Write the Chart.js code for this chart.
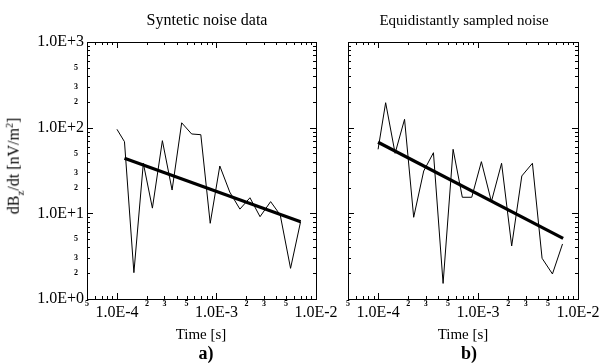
<!DOCTYPE html>
<html lang="en">
<head>
  <meta charset="UTF-8" />
  <title>Noise data</title>
  <script src="https://cdn.jsdelivr.net/npm/chart.js"></script>
  <style>
    body { margin: 0; background: #fff; }
    #wrap { position: relative; width: 602px; height: 363px; font-family: "Liberation Serif", "DejaVu Serif", serif; color: #000; }
    canvas { position: absolute; top: 0; }
    .txt { position: absolute; transform: translate(-50%, -50%); white-space: nowrap; line-height: 1; }
  </style>
</head>
<body>
  <div id="wrap">
    <canvas id="chartA" width="346" height="363" style="left:0"></canvas>
    <canvas id="chartB" width="282" height="363" style="left:320px"></canvas>
    <div class="txt" style="left:207px; top:20px; font-size:16px;">Syntetic noise data</div>
    <div class="txt" style="left:464px; top:20px; font-size:15px;">Equidistantly sampled noise</div>
    <div class="txt" style="left:15px; top:166px; font-size:16px; transform: translate(-50%, -50%) rotate(-90deg);">dB<sub style="font-size:11px">z</sub>/dt [nV/m<sup style="font-size:10px">2</sup>]</div>
    <div class="txt" style="left:201px; top:334px; font-size:15px;">Time [s]</div>
    <div class="txt" style="left:463px; top:334px; font-size:15px;">Time [s]</div>
    <div class="txt" style="left:206px; top:353px; font-size:18px; font-weight:bold;">a)</div>
    <div class="txt" style="left:469px; top:353px; font-size:18px; font-weight:bold;">b)</div>
  </div>

  <script>
    const times = [1.0e-4, 1.19e-4, 1.48e-4, 1.84e-4, 2.27e-4, 2.86e-4, 3.58e-4, 4.47e-4, 5.63e-4, 6.96e-4,
                   8.65e-4, 1.08e-3, 1.36e-3, 1.72e-3, 2.17e-3, 2.74e-3, 3.5e-3, 4.37e-3, 5.55e-3, 7.0e-3];
    const noiseA = [95.7, 68.6, 2.03, 38.4, 11.5, 70.5, 18.7, 114, 84.4, 82.8,
                    7.65, 35.7, 17.7, 11.2, 15.2, 9.14, 13.7, 9.57, 2.28, 7.98];
    const noiseB = [55.9, 195.6, 50.2, 125.2, 8.99, 31.2, 51.0, 1.52, 55.9, 15.4,
                    15.4, 40.1, 13.7, 38.4, 4.16, 27.3, 38.4, 2.99, 1.96, 4.39];
    const fitTimeA = [1.19e-4, 7.0e-3];
    const fitA = [43.9, 7.98];
    const fitTimeB = [1.0e-4, 7.1e-3];
    const fitB = [67.5, 5.1];

    const xMajorTicks = [1e-4, 1e-3, 1e-2];
    const xMajorLabels = ["1.0E-4", "1.0E-3", "1.0E-2"];
    const xMinorTicks = [5e-5, 6e-5, 7e-5, 8e-5, 9e-5, 2e-4, 3e-4, 4e-4, 5e-4, 6e-4, 7e-4, 8e-4, 9e-4,
                         2e-3, 3e-3, 4e-3, 5e-3, 6e-3, 7e-3, 8e-3, 9e-3];
    const xMinorLabeled = [5e-5, 2e-4, 3e-4, 5e-4, 2e-3, 3e-3, 5e-3];
    const xMinorLabels = ["5", "2", "3", "5", "2", "3", "5"];
    const yMajorTicks = [1, 10, 100, 1000];
    const yMajorLabels = ["1.0E+0", "1.0E+1", "1.0E+2", "1.0E+3"];
    const yMinorTicks = [2, 3, 4, 5, 6, 7, 8, 9, 20, 30, 40, 50, 60, 70, 80, 90, 200, 300, 400, 500, 600, 700, 800, 900];
    const yMinorLabeled = [2, 3, 5, 20, 30, 50, 200, 300, 500];
    const yMinorLabels = ["2", "3", "5", "2", "3", "5", "2", "3", "5"];

    const serif = '"Liberation Serif", "DejaVu Serif", serif';

    const framePlugin = {
      id: "frame",
      afterDatasetsDraw(chart, args, opts) {
        const { ctx, chartArea: a } = chart;
        const xs = chart.scales.x, ys = chart.scales.y;
        ctx.save();
        ctx.strokeStyle = "#000";
        ctx.lineWidth = 1;
        ctx.strokeRect(a.left + 0.5, a.top + 0.5, a.right - a.left, a.bottom - a.top);

        ctx.beginPath();
        const xTick = (v, len) => {
          const px = Math.round(xs.getPixelForValue(v)) + 0.5;
          ctx.moveTo(px, a.bottom); ctx.lineTo(px, a.bottom - len);
          ctx.moveTo(px, a.top); ctx.lineTo(px, a.top + len);
        };
        const yTick = (v, len) => {
          const py = Math.round(ys.getPixelForValue(v)) + 0.5;
          ctx.moveTo(a.left, py); ctx.lineTo(a.left + len, py);
          ctx.moveTo(a.right, py); ctx.lineTo(a.right - len, py);
        };
        xMajorTicks.forEach(v => xTick(v, 6));
        xMinorTicks.forEach(v => xTick(v, 3));
        yMajorTicks.forEach(v => yTick(v, 6));
        yMinorTicks.forEach(v => yTick(v, 3));
        ctx.stroke();

        ctx.fillStyle = "#000";
        ctx.textBaseline = "middle";
        ctx.textAlign = "center";
        ctx.font = "16px " + serif;
        xMajorTicks.forEach((v, i) => ctx.fillText(xMajorLabels[i], xs.getPixelForValue(v), a.bottom + 14));
        ctx.font = "bold 8px " + serif;
        xMinorLabeled.forEach((v, i) => ctx.fillText(xMinorLabels[i], xs.getPixelForValue(v), a.bottom + 5));

        if (opts.yLabels) {
          ctx.font = "16px " + serif;
          ctx.textAlign = "right";
          yMajorTicks.forEach((v, i) => ctx.fillText(yMajorLabels[i], a.left - 3, ys.getPixelForValue(v)));
          ctx.font = "bold 8px " + serif;
          ctx.textAlign = "center";
          yMinorLabeled.forEach((v, i) => ctx.fillText(yMinorLabels[i], a.left - 11, ys.getPixelForValue(v)));
        }
        ctx.restore();
      }
    };

    function makeChart(id, noise, fitTimes, fitVals, padding, yLabels) {
      return new Chart(document.getElementById(id), {
        type: "line",
        data: {
          datasets: [
            {
              data: times.map((t, i) => ({ x: t, y: noise[i] })),
              borderColor: "#000",
              borderWidth: 1,
              pointRadius: 0,
              tension: 0
            },
            {
              data: fitTimes.map((t, i) => ({ x: t, y: fitVals[i] })),
              borderColor: "#000",
              borderWidth: 3.2,
              pointRadius: 0,
              tension: 0
            }
          ]
        },
        options: {
          responsive: false,
          animation: false,
          devicePixelRatio: 1,
          layout: { padding: padding },
          scales: {
            x: { type: "logarithmic", min: 5e-5, max: 1e-2, display: false },
            y: { type: "logarithmic", min: 1, max: 1000, display: false }
          },
          plugins: {
            legend: { display: false },
            tooltip: { enabled: false },
            frame: { yLabels: yLabels }
          }
        },
        plugins: [framePlugin]
      });
    }

    makeChart("chartA", noiseA, fitTimeA, fitA, { left: 87, right: 30, top: 42, bottom: 64 }, true);
    makeChart("chartB", noiseB, fitTimeB, fitB, { left: 28, right: 24, top: 42, bottom: 64 }, false);
  </script>
</body>
</html>
